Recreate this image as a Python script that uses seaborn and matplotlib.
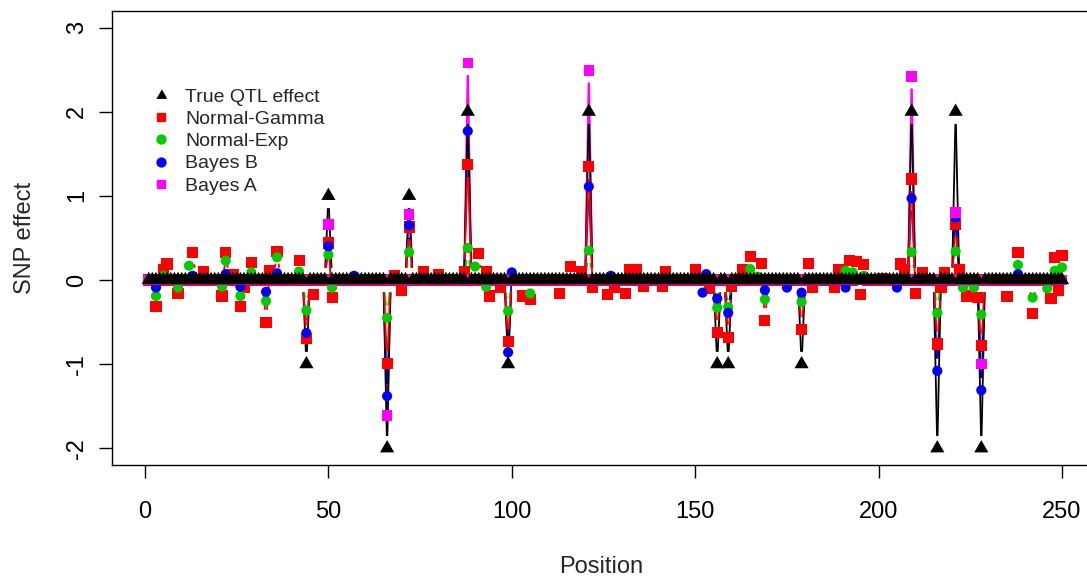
import numpy as np
import pandas as pd
import matplotlib
matplotlib.use("Agg")
from matplotlib import pyplot as plt
from matplotlib.lines import Line2D
import seaborn as sns

# positions 1..250, values (unlisted positions ~ 0)
n_snp = 250
qtl_pos = [44, 50, 66, 72, 88, 99, 121, 156, 159, 179, 209, 216, 221, 228]
qtl_val = [-1, 1, -2, 1, 2, -1, 2, -1, -1, -1, 2, -2, 2, -2]

ng_pos = [3, 5, 6, 9, 13, 16, 21, 22, 24, 26, 27, 29, 33, 34, 36, 42, 44, 46, 50, 51,
          66, 68, 70, 72, 76, 80, 87, 88, 91, 93, 94, 97, 99, 103, 105, 113, 116, 119,
          121, 122, 126, 128, 131, 132, 134, 136, 141, 142, 150, 154, 156, 159, 160,
          163, 165, 168, 169, 179, 181, 182, 188, 189, 192, 194, 195, 196, 201, 206,
          207, 209, 210, 212, 216, 217, 218, 221, 222, 224, 227, 228, 235, 238, 242,
          247, 248, 249, 250]
ng_val = [-0.31, 0.12, 0.19, -0.16, 0.33, 0.10, -0.19, 0.33, 0.06, -0.32, -0.09, 0.21,
          -0.50, 0.11, 0.34, 0.23, -0.69, -0.17, 0.44, -0.21,
          -0.99, 0.05, -0.12, 0.63, 0.10, 0.06, 0.10, 1.37, 0.32, 0.10, -0.19, -0.09,
          -0.73, -0.19, -0.23, -0.16, 0.16, 0.10,
          1.35, -0.09, -0.17, -0.09, -0.16, 0.12, 0.13, -0.08, -0.08, 0.10, 0.12, -0.10,
          -0.62, -0.68, -0.08,
          0.13, 0.28, 0.20, -0.48, -0.59, 0.20, -0.09, -0.09, 0.12, 0.23, 0.22, -0.17,
          0.18, 0.02, 0.19,
          0.12, 1.20, -0.16, 0.09, -0.76, -0.09, 0.09, 0.66, 0.12, -0.19, -0.21, -0.78,
          -0.20, 0.33, -0.40,
          -0.22, 0.27, -0.12, 0.29]

ne_pos = [3, 5, 9, 12, 21, 22, 26, 29, 33, 36, 42, 44, 50, 51, 66, 72, 88, 90, 93, 99,
          105, 121, 156, 159, 165, 167, 169, 179, 191, 193, 196, 209, 216, 221, 223,
          226, 228, 238, 242, 246, 248, 250]
ne_val = [-0.19, 0.05, -0.09, 0.17, -0.08, 0.23, -0.19, 0.09, -0.25, 0.27, 0.10, -0.36,
          0.30, -0.09, -0.45, 0.33, 0.38, 0.16, -0.08, -0.37,
          -0.16, 0.35, -0.33, -0.32, 0.13, 0.04, -0.23, -0.26, 0.11, 0.09, 0.05, 0.33,
          -0.39, 0.34, -0.09,
          -0.09, -0.41, 0.18, -0.21, -0.10, 0.11, 0.15]

bb_pos = [3, 13, 22, 26, 33, 36, 44, 50, 57, 66, 72, 88, 99, 100, 121, 127, 152, 153,
          156, 159, 169, 175, 179, 191, 205, 209, 216, 221, 228, 238]
bb_val = [-0.09, 0.05, 0.07, -0.08, -0.14, 0.08, -0.63, 0.40, 0.05, -1.38, 0.65, 1.77,
          -0.86, 0.09, 1.11, 0.05, -0.15, 0.07,
          -0.22, -0.39, -0.12, -0.09, -0.15, -0.09, -0.09, 0.97, -1.08, 0.74, -1.31, 0.07]

ba_pos = [50, 66, 72, 88, 121, 209, 221, 228]
ba_val = [0.66, -1.61, 0.78, 2.58, 2.49, 2.42, 0.80, -1.00]

labels = ["True QTL effect", "Normal-Gamma", "Normal-Exp", "Bayes B", "Bayes A"]
colors = ["black", "#FF0000", "#00CD00", "#0000FF", "#FF00FF"]
# R style triangle: centred on its centroid, not on its bounding box
tri = [(0.0, 1.555), (1.347, -0.778), (-1.347, -0.778)]
markers = [tri, "s", "o", "o", "s"]
msizes = [11.8, 8.0, 7.3, 7.3, 7.6]
leg_sizes = [7.8, 5.2, 6.4, 6.4, 5.2]
# stacking of the connecting lines (Bayes A lowest, Normal-Gamma on top)
line_z = [2.2, 2.4, 2.3, 2.1, 2.0]


def full(pos, val):
    arr = np.zeros(n_snp)
    arr[np.array(pos) - 1] = val
    return arr


position = np.arange(1, n_snp + 1)
df = pd.DataFrame({
    "Position": position,
    "True QTL effect": full(qtl_pos, qtl_val),
    "Normal-Gamma": full(ng_pos, ng_val),
    "Normal-Exp": full(ne_pos, ne_val),
    "Bayes B": full(bb_pos, bb_val),
    "Bayes A": full(ba_pos, ba_val),
})

sns.set_style("white")
plt.rcParams["font.family"] = ["Liberation Sans", "DejaVu Sans"]
plt.rcParams["axes.unicode_minus"] = False

W, H = 1087, 577
fig = plt.figure(figsize=(W / 100, H / 100), dpi=100)
x0, px_x = 145.0, 3.668
y0, px_y = 280.0, 84.15
xmin, xmax = -8.96, 259.96
ymin, ymax = -2.2, 3.2
left = x0 + xmin * px_x
top = y0 - ymax * px_y
bottom = y0 - ymin * px_y
ax = fig.add_axes([left / W, 1 - bottom / H, (xmax - xmin) * px_x / W, (bottom - top) / H])

gap_px = 13.0


def gapped(x, y):
    # like R type="b": each segment is cut back near both points
    rows = []
    for k in range(len(x) - 1):
        dx = (x[k + 1] - x[k]) * px_x
        dy = (y[k + 1] - y[k]) * px_y
        d = np.hypot(dx, dy)
        if d > 2 * gap_px:
            f = gap_px / d
            rows.append((x[k] + f * (x[k + 1] - x[k]), y[k] + f * (y[k + 1] - y[k]), k))
            rows.append((x[k + 1] - f * (x[k + 1] - x[k]), y[k + 1] - f * (y[k + 1] - y[k]), k))
    return pd.DataFrame(rows, columns=["x", "y", "seg"])


for i, lab in enumerate(labels):
    seg = gapped(df["Position"].values.astype(float), df[lab].values)
    sns.lineplot(data=seg, x="x", y="y", units="seg", estimator=None, sort=False,
                 color=colors[i], linewidth=1.4 if i == 4 else 1.3, ax=ax, zorder=line_z[i])
for i in [1, 2, 3, 4, 0]:
    lab = labels[i]
    sns.scatterplot(data=df, x="Position", y=lab, color=colors[i], marker=markers[i],
                    s=msizes[i] ** 2, linewidth=0, edgecolor="none", ax=ax,
                    zorder=3 + (0.5 if i == 0 else i * 0.1))

ax.set_xlim(xmin, xmax)
ax.set_ylim(ymin, ymax)
ax.set_xticks([0, 50, 100, 150, 200, 250])
ax.set_yticks([-2, -1, 0, 1, 2, 3])
ax.tick_params(axis="both", direction="out", length=9.5, width=1.0, labelsize=17,
               color="black", labelcolor="black", left=True, bottom=True)
ax.tick_params(axis="x", pad=16)
ax.tick_params(axis="y", pad=8)
for t in ax.get_yticklabels():
    t.set_rotation(90)
    t.set_va("center")
for sp in ax.spines.values():
    sp.set_color("black")
    sp.set_linewidth(1.0)

ax.set_xlabel("Position", fontsize=17)
ax.set_ylabel("SNP effect", fontsize=17)
ax.xaxis.set_label_coords((601 - left) / ((xmax - xmin) * px_x), -(556 - bottom) / (bottom - top))
ax.yaxis.set_label_coords(-(left - 36) / ((xmax - xmin) * px_x), 0.5)

handles = [Line2D([], [], linestyle="none", marker=markers[i], color=colors[i],
                  markersize=leg_sizes[i]) for i in range(5)]
ax.legend(handles, labels, loc="upper left", bbox_to_anchor=(151 / W, 1 - 88 / H),
          bbox_transform=fig.transFigure, frameon=False, fontsize=14,
          handlelength=1.0, handletextpad=0.77, labelspacing=0.24, borderpad=0,
          borderaxespad=0)

fig.savefig("out.png", dpi=100)
